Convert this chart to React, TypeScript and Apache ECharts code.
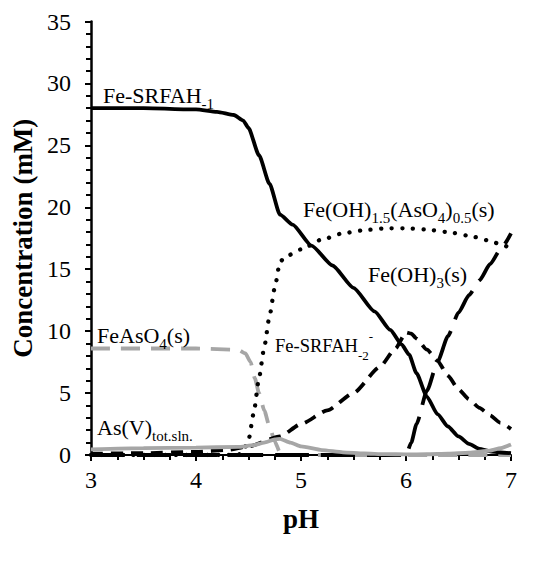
import React, { useEffect, useRef } from "react";
import * as echarts from "echarts";

const FONT = "Liberation Serif";

// Speciation versus pH, [pH, concentration in mM]
const feSrfah1: [number, number][] = [
  [3.0, 28.0], [3.5, 28.0], [4.0, 27.9], [4.2, 27.7], [4.36, 27.45], [4.45, 27.0],
  [4.5, 26.4], [4.6, 24.2], [4.7, 21.9], [4.8, 19.4], [4.92, 18.6], [5.1, 16.9],
  [5.3, 15.3], [5.5, 13.5], [5.7, 11.6], [5.85, 10.1], [5.96, 8.9], [6.03, 8.1],
  [6.1, 6.6], [6.2, 4.7], [6.3, 3.3], [6.4, 2.3], [6.5, 1.5], [6.6, 0.9],
  [6.7, 0.5], [6.8, 0.3], [6.9, 0.2], [7.0, 0.15],
];

const feOhAsO4: [number, number][] = [
  [3.0, 0], [4.0, 0], [4.4, 0], [4.45, 0.3], [4.5, 1.2], [4.55, 3.4], [4.6, 6.2],
  [4.65, 8.7], [4.7, 11.2], [4.75, 13.5], [4.8, 15.6], [4.85, 16.0], [5.0, 16.6],
  [5.2, 17.4], [5.4, 17.9], [5.6, 18.15], [5.8, 18.3], [6.0, 18.3], [6.2, 18.2],
  [6.4, 18.0], [6.6, 17.7], [6.8, 17.3], [6.9, 17.0], [7.0, 16.7],
];

const feSrfah2: [number, number][] = [
  [3.0, 0.1], [3.5, 0.15], [4.0, 0.25], [4.3, 0.4], [4.5, 0.7], [4.8, 1.5],
  [5.0, 2.5], [5.25, 3.6], [5.5, 5.0], [5.75, 7.1], [5.9, 8.6], [6.0, 9.9],
  [6.05, 9.8], [6.1, 9.4], [6.2, 8.5], [6.3, 7.6], [6.4, 6.4], [6.5, 5.3],
  [6.6, 4.5], [6.7, 3.8], [6.8, 3.2], [6.9, 2.6], [7.0, 2.1],
];

const feOh3: [number, number][] = [
  [3.0, 0], [5.0, 0], [6.0, 0], [6.05, 1.0], [6.1, 2.5], [6.2, 5.2], [6.3, 7.5],
  [6.4, 9.6], [6.5, 11.5], [6.6, 12.9], [6.7, 14.1], [6.8, 15.4], [6.9, 16.6],
  [7.0, 17.9],
];

const feAsO4: [number, number][] = [
  [3.0, 8.6], [4.0, 8.6], [4.4, 8.5], [4.47, 8.2], [4.52, 7.5], [4.56, 6.2],
  [4.6, 5.0], [4.65, 3.6], [4.7, 2.3], [4.75, 1.1], [4.8, 0.2], [4.85, 0],
  [5.0, 0], [6.0, 0], [7.0, 0],
];

const asTotSln: [number, number][] = [
  [3.0, 0.45], [3.5, 0.55], [4.0, 0.6], [4.4, 0.65], [4.55, 0.8], [4.65, 1.0],
  [4.75, 1.25], [4.8, 1.3], [4.9, 1.0], [5.0, 0.7], [5.2, 0.4], [5.4, 0.22],
  [5.6, 0.12], [5.8, 0.07], [6.0, 0.05], [6.2, 0.06], [6.4, 0.1], [6.6, 0.18],
  [6.8, 0.35], [6.9, 0.55], [7.0, 0.85],
];

const richStyles = (size: number) => ({
  b: { fontSize: size, fontFamily: FONT, lineHeight: 32, verticalAlign: "middle", color: "#000" },
  s: { fontSize: Math.round(size * 0.7), fontFamily: FONT, lineHeight: 15, verticalAlign: "bottom", color: "#000" },
  p: { fontSize: Math.round(size * 0.7), fontFamily: FONT, lineHeight: 15, verticalAlign: "top", color: "#000" },
});

const speciesLabel = (x: number, y: number, size: number, text: string) => ({
  type: "text",
  x,
  y,
  z: 10,
  style: {
    text,
    rich: richStyles(size),
    align: "left",
    verticalAlign: "middle",
    fill: "#000",
  },
});

const lineSeries = (name: string, data: [number, number][], lineStyle: any, z: number) => ({
  name,
  type: "line",
  data,
  z,
  symbol: "none",
  showSymbol: false,
  smooth: 0.2,
  smoothMonotone: "x",
  lineStyle,
});

export default function App() {
  const ref = useRef<HTMLDivElement>(null);

  useEffect(() => {
    const chart = echarts.init(ref.current!, null, { renderer: "svg" });
    chart.setOption({
      animation: false,
      backgroundColor: "#fff",
      textStyle: { fontFamily: FONT },
      grid: { left: 91, right: 34, top: 21.5, bottom: 110 },
      xAxis: {
        type: "value",
        min: 3,
        max: 7,
        interval: 1,
        name: "pH",
        nameLocation: "middle",
        nameGap: 50,
        nameTextStyle: { fontFamily: FONT, fontSize: 27, fontWeight: "bold", color: "#000" },
        axisLine: { lineStyle: { color: "#000", width: 2 } },
        axisTick: { show: true, length: 6, lineStyle: { color: "#000", width: 2 } },
        minorTick: { show: true, splitNumber: 4, length: 5, lineStyle: { color: "#000", width: 2 } },
        splitLine: { show: false },
        axisLabel: { fontFamily: FONT, fontSize: 24, color: "#000", margin: 13 },
      },
      yAxis: {
        type: "value",
        min: 0,
        max: 35,
        interval: 5,
        name: "Concentration (mM)",
        nameLocation: "middle",
        nameGap: 36,
        nameTextStyle: { fontFamily: FONT, fontSize: 27, fontWeight: "bold", color: "#000" },
        axisLine: { show: true, lineStyle: { color: "#000", width: 2.5 } },
        axisTick: { show: true, length: 6, lineStyle: { color: "#000", width: 2 } },
        minorTick: { show: true, splitNumber: 5, length: 5, lineStyle: { color: "#000", width: 2 } },
        splitLine: { show: false },
        axisLabel: { fontFamily: FONT, fontSize: 24, color: "#000", margin: 20 },
      },
      series: [
        lineSeries("FeAsO4(s)", feAsO4, { color: "#a6a6a6", width: 3.8, type: [19, 11] }, 2),
        lineSeries("Fe(OH)1.5(AsO4)0.5(s)", feOhAsO4, { color: "#000", width: 4.3, type: [0.1, 10.5], cap: "round" }, 3),
        lineSeries("Fe-SRFAH-2-", feSrfah2, { color: "#000", width: 3.8, type: [12, 8] }, 4),
        lineSeries("Fe(OH)3(s)", feOh3, { color: "#000", width: 3.8, type: [34, 12] }, 5),
        lineSeries("Fe-SRFAH-1", feSrfah1, { color: "#000", width: 3.8 }, 6),
        lineSeries("As(V)tot.sln.", asTotSln, { color: "#a6a6a6", width: 3.8 }, 7),
      ],
      graphic: [
        speciesLabel(103, 95, 22, "{b|Fe-SRFAH}{s|-1}"),
        speciesLabel(303, 209, 22, "{b|Fe(OH)}{s|1.5}{b|(AsO}{s|4}{b|)}{s|0.5}{b|(s)}"),
        speciesLabel(368, 274, 22, "{b|Fe(OH)}{s|3}{b|(s)}"),
        speciesLabel(275, 346, 18.5, "{b|Fe-SRFAH}{s|-2}{p|-}"),
        speciesLabel(97, 335, 22, "{b|FeAsO}{s|4}{b|(s)}"),
        speciesLabel(97, 427, 22, "{b|As(V)}{s|tot.sln.}"),
      ],
    });
    return () => chart.dispose();
  }, []);

  return (
    <div
      ref={ref}
      style={{ position: "fixed", left: 0, top: 0, width: 545, height: 565 }}
    />
  );
}
